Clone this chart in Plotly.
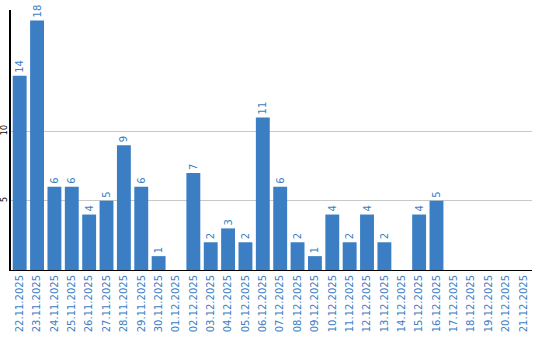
import plotly.graph_objects as go

dates = ["22.11.2025","23.11.2025","24.11.2025","25.11.2025","26.11.2025","27.11.2025",
         "28.11.2025","29.11.2025","30.11.2025","01.12.2025","02.12.2025","03.12.2025",
         "04.12.2025","05.12.2025","06.12.2025","07.12.2025","08.12.2025","09.12.2025",
         "10.12.2025","11.12.2025","12.12.2025","13.12.2025","14.12.2025","15.12.2025",
         "16.12.2025","17.12.2025","18.12.2025","19.12.2025","20.12.2025","21.12.2025"]
counts = [14, 18, 6, 6, 4, 5, 9, 6, 1, None, 7, 2, 3, 2, 11, 6, 2, 1, 4, 2, 4, 2, None, 4, 5,
          None, None, None, None, None]
y_ticks = [5, 10]

blue = "#3b7ec4"
fig = go.Figure(go.Bar(
    x=dates, y=counts, marker_color=blue, marker_line_width=0,
    text=[("" if v is None else str(v)) for v in counts],
    textposition="outside", textangle=-90,
    textfont=dict(family="DejaVu Sans", size=10, color=blue),
    cliponaxis=False,
))
fig.update_layout(
    width=540, height=340, margin=dict(l=11, r=8, t=10, b=70),
    paper_bgcolor="white", plot_bgcolor="white", showlegend=False,
    bargap=0.2,
    xaxis=dict(type="category", tickangle=-90, showline=True, linecolor="black", linewidth=1,
               tickfont=dict(family="DejaVu Sans", size=10, color=blue), ticks="",
               showgrid=False, automargin=False),
    yaxis=dict(range=[0, 18.75], tickvals=y_ticks, tickangle=-90, showline=True,
               linecolor="black", linewidth=2, gridcolor="#c8c8c8", gridwidth=1,
               tickfont=dict(family="DejaVu Sans", size=8, color="black"), ticks="",
               zeroline=False, automargin=False, ticklabelstandoff=-1),
)
fig.write_html("out.html")
